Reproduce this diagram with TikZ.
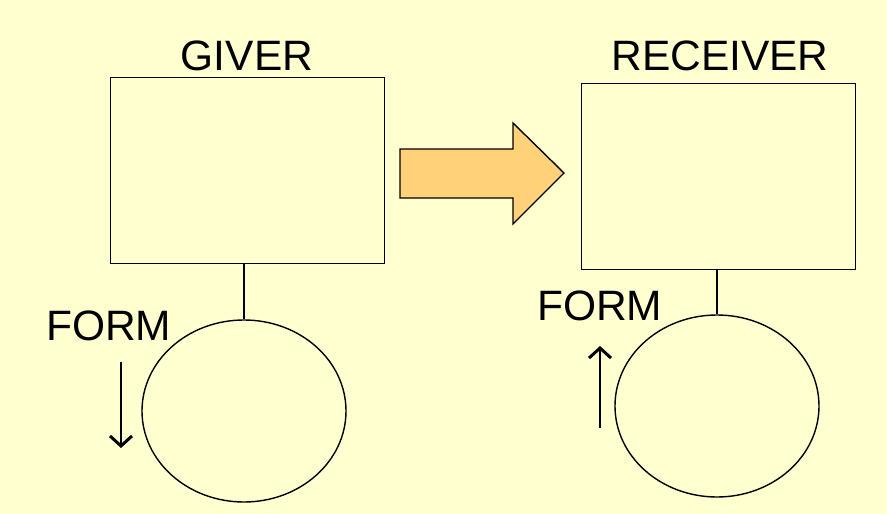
\documentclass[tikz,border=0pt]{standalone}
\usepackage{fontspec}
\setmainfont{Liberation Sans}
\usetikzlibrary{arrows.meta,shapes.geometric}
\definecolor{bg}{HTML}{FFFFD0}
\definecolor{arrowfill}{HTML}{FFD27A}
\begin{document}
\begin{tikzpicture}[x=1pt,y=-1pt,
  box/.style={draw=black,line width=1.4pt,minimum width=274pt,minimum height=186pt,inner sep=0pt,anchor=north west},
  oval/.style={draw=black,line width=1.4pt,ellipse,minimum width=204pt,minimum height=182pt,inner sep=0pt},
  lbl/.style={font=\fontsize{42.5}{42.5}\selectfont,inner sep=0pt},
  conn/.style={line width=1.4pt},
  flow/.style={line width=1.6pt,-{Straight Barb[length=10pt,width=22pt,line width=3pt]}}]
\fill[bg] (0,0) rectangle (887,514);
\useasboundingbox (0,0) rectangle (887,514);
\node[box] (giver) at (110,77) {};
\node[box] (receiver) at (581,83) {};
\node[oval] (gcirc) at (244,411) {};
\node[oval] (rcirc) at (717,406) {};
\draw[conn] (giver.south -| gcirc.north) -- (gcirc.north);
\draw[conn] (receiver.south -| rcirc.north) -- (rcirc.north);
\node[lbl,anchor=base] (tg) at (247,70) {GIVER};
\node[lbl,anchor=base] (tr) at (720,70) {RECEIVER};
\node[lbl,anchor=base west] (fg) at (46,340) {FORM};
\node[lbl,anchor=base west] (fr) at (537,320) {FORM};
\coordinate (ga) at (121,362);
\coordinate (gb) at (121,448);
\coordinate (ra) at (600,428);
\coordinate (rb) at (600,346);
\draw[flow] (ga) -- (gb);
\draw[flow] (ra) -- (rb);
\draw[line width=1.4pt,fill=arrowfill,line join=miter]
  (400,149) -- (513,149) -- (513,123) -- (564,173) -- (513,224) -- (513,198) -- (400,198) -- cycle;
\end{tikzpicture}
\end{document}
